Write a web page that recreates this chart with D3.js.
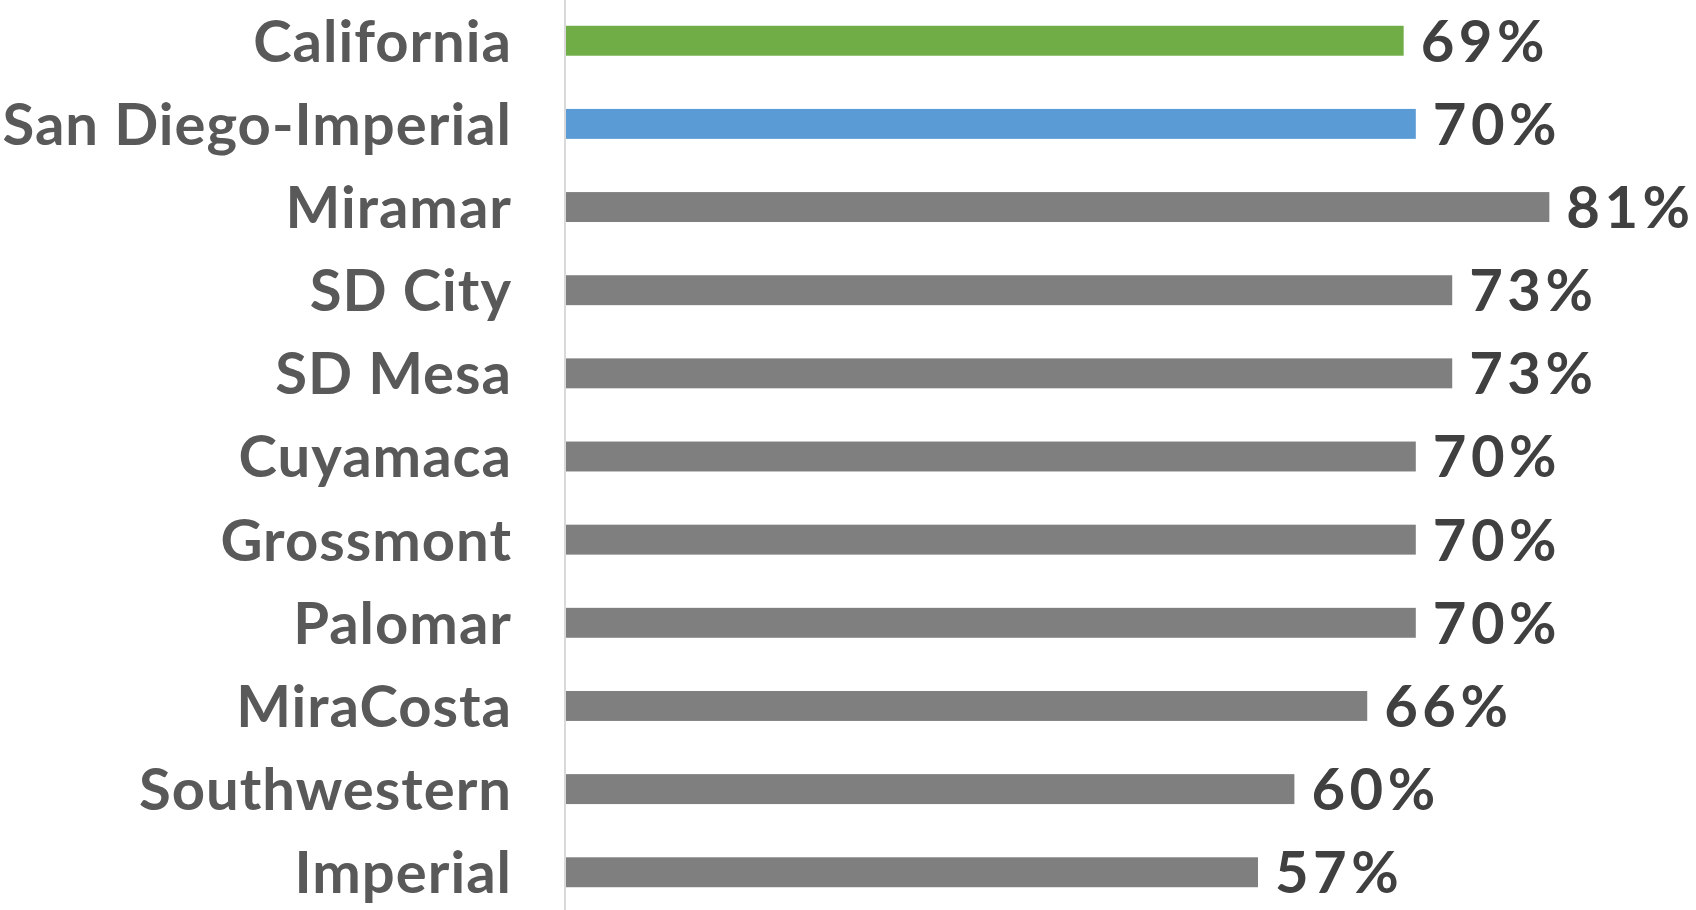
<!DOCTYPE html>
<html><head><meta charset="utf-8">
<script src="https://cdn.jsdelivr.net/npm/d3@7"></script>
<style>html,body{margin:0;padding:0;background:#fff;overflow:hidden}</style>
</head><body>
<svg id="c" width="1696" height="910"></svg>
<script>
const categories = ["California","San Diego-Imperial","Miramar","SD City","SD Mesa","Cuyamaca","Grossmont","Palomar","MiraCosta","Southwestern","Imperial"];
const values = [0.69,0.70,0.81,0.73,0.73,0.70,0.70,0.70,0.66,0.60,0.57];
const valueLabels = ["69%","70%","81%","73%","73%","70%","70%","70%","66%","60%","57%"];
const barColors = ["#70ad47","#5b9bd5","#7f7f7f","#7f7f7f","#7f7f7f","#7f7f7f","#7f7f7f","#7f7f7f","#7f7f7f","#7f7f7f","#7f7f7f"];

const svg = d3.select("#c");
const x = d3.scaleLinear().domain([0,1]).range([566,1780]);
const y = d3.scaleBand().domain(categories).range([0,913]).paddingInner(0.64).paddingOuter(0.31);
const font = "Lato, 'Open Sans', sans-serif";
const fs = 58;

svg.append("line").attr("x1",565).attr("x2",565).attr("y1",0).attr("y2",910)
  .attr("stroke","#d9d9d9").attr("stroke-width",2);

svg.selectAll("rect.bar").data(categories).join("rect")
  .attr("class","bar")
  .attr("x",x(0)).attr("y",d=>y(d))
  .attr("width",(d,i)=>x(values[i])-x(0)).attr("height",y.bandwidth())
  .attr("fill",(d,i)=>barColors[i]);

svg.selectAll("text.cat").data(categories).join("text")
  .attr("class","cat")
  .attr("x",512).attr("y",d=>y(d)+y.bandwidth()/2+fs*0.36)
  .attr("text-anchor","end")
  .attr("font-family",font).attr("font-weight","bold").attr("font-size",fs)
  .attr("letter-spacing",1)
  .attr("fill","#595959").text(d=>d);

svg.selectAll("text.val").data(categories).join("text")
  .attr("class","val")
  .attr("x",(d,i)=>x(values[i])+17).attr("y",d=>y(d)+y.bandwidth()/2+fs*0.36)
  .attr("font-family",font).attr("font-weight","bold").attr("font-size",fs)
  .attr("letter-spacing",4.5)
  .attr("fill","#404040").text((d,i)=>valueLabels[i]);
</script>
</body></html>
